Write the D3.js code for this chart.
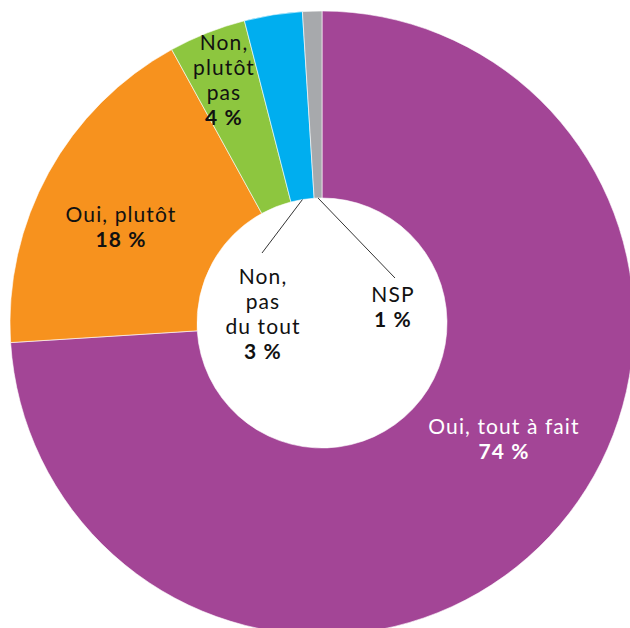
<!DOCTYPE html>
<html>
<head>
<meta charset="utf-8">
<script src="https://cdn.jsdelivr.net/npm/d3@7"></script>
<style>
  body { margin: 0; background: #fff; }
  text { font-family: Lato, "Open Sans", sans-serif; }
</style>
</head>
<body>
<div id="chart"></div>
<script>
// data
var categories = ["Oui, tout à fait", "Oui, plutôt", "Non, plutôt pas", "Non, pas du tout", "NSP"]
var values = [74, 18, 4, 3, 1]
var colors = ["#A34596", "#F7921E", "#8DC63F", "#00AEEF", "#A7A9AC"]
var labelLines = [["Oui, tout à fait"], ["Oui, plutôt"], ["Non,", "plutôt", "pas"], ["Non,", "pas", "du tout"], ["NSP"]]

var width = 630
var height = 628
var cx = 322, cy = 323
var outerR = 312, innerR = 125

var svg = d3.select("#chart")
    .append("svg")
    .attr("width", width)
    .attr("height", height)

var g = svg.append("g")
    .attr("transform", "translate(" + cx + "," + cy + ")")

var data = categories.map(function(c, i) { return {name: c, value: values[i], color: colors[i], lines: labelLines[i]} })

var pie = d3.pie().sort(null).value(function(d) { return d.value })
var arcs = pie(data)

var arc = d3.arc().innerRadius(innerR).outerRadius(outerR)

g.selectAll("path")
    .data(arcs)
    .enter().append("path")
    .attr("d", arc)
    .attr("fill", function(d) { return d.data.color })
    .attr("stroke", "#fff")
    .attr("stroke-width", 0.6)

// label placement: x, y of first line, and text colour
var labelPos = [
    {x: 504, y: 434, fill: "#fff"},
    {x: 121, y: 222, fill: "#111"},
    {x: 224, y: 50, fill: "#111"},
    {x: 263, y: 284, fill: "#111"},
    {x: 393, y: 302, fill: "#111"}
]
var lineH = 25

// leader lines for the two thin slices (from the inner edge to the label)
var leaderTargets = {3: [262, 253], 4: [395, 278]}
Object.keys(leaderTargets).forEach(function(k) {
    var a = arcs[+k]
    var mid = (a.startAngle + a.endAngle) / 2
    var sx = cx + innerR * Math.sin(mid)
    var sy = cy - innerR * Math.cos(mid)
    svg.append("line")
        .attr("x1", sx).attr("y1", sy)
        .attr("x2", leaderTargets[k][0]).attr("y2", leaderTargets[k][1])
        .attr("stroke", "#333")
        .attr("stroke-width", 1)
})

// one text element per line
arcs.forEach(function(a, i) {
    var p = labelPos[i]
    var lines = a.data.lines.concat([a.data.value + " %"])
    lines.forEach(function(line, j) {
        svg.append("text")
            .attr("x", p.x)
            .attr("y", p.y + j * lineH)
            .attr("text-anchor", "middle")
            .attr("fill", p.fill)
            .attr("font-size", 21)
            .attr("letter-spacing", 1.1)
            .attr("font-weight", j == lines.length - 1 ? "bold" : "normal")
            .text(line)
    })
})
</script>
</body>
</html>
